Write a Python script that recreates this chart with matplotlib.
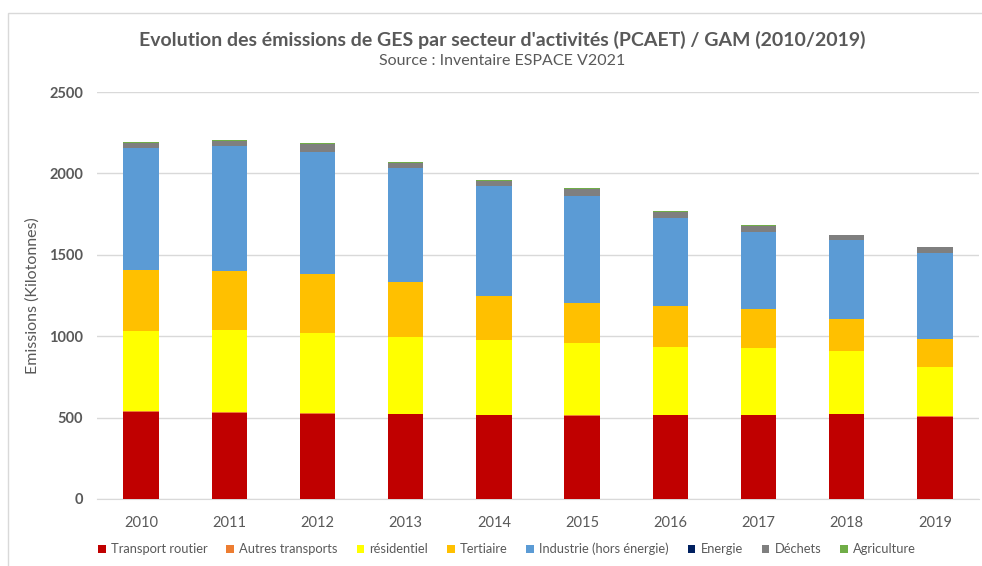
import matplotlib.pyplot as plt
import numpy as np
from matplotlib.patches import Rectangle

plt.rcParams['font.family'] = ['Lato', 'DejaVu Sans']

years = ['2010', '2011', '2012', '2013', '2014', '2015', '2016', '2017', '2018', '2019']

transport_routier = [535, 531, 525, 520, 516, 512, 513, 514, 520, 506]
autres_transports = [3, 3, 3, 3, 3, 3, 3, 3, 3, 3]
residentiel = [497, 505, 492, 471, 456, 442, 415, 410, 389, 301]
tertiaire = [369, 359, 365, 336, 275, 250, 256, 243, 194, 172]
industrie = [754, 772, 748, 703, 674, 654, 537, 473, 486, 530]
energie = [0, 0, 0, 0, 0, 0, 0, 0, 0, 0]
dechets = [31, 29, 48, 33, 29, 45, 39, 35, 28, 33]
agriculture = [4, 4, 4, 4, 4, 4, 4, 4, 4, 5]

series = [
    ('Transport routier', transport_routier, '#c00000'),
    ('Autres transports', autres_transports, '#ed7d31'),
    ('résidentiel', residentiel, '#ffff00'),
    ('Tertiaire', tertiaire, '#ffc000'),
    ('Industrie (hors énergie)', industrie, '#5b9bd5'),
    ('Energie', energie, '#002060'),
    ('Déchets', dechets, '#7f7f7f'),
    ('Agriculture', agriculture, '#70ad47'),
]

W, H = 982, 566
fig = plt.figure(figsize=(W / 100, H / 100), dpi=100)
ax = fig.add_axes([97 / W, 1 - 499 / H, (979 - 97) / W, (499 - 92) / H])

# chart border
fig.patches.append(Rectangle((8 / W, -0.1), 1.2, 1 - 13 / H + 0.1, transform=fig.transFigure,
                             fill=False, edgecolor='#d9d9d9', linewidth=1.0))

x = np.arange(len(years))
bottom = np.zeros(len(years))
for label, vals, color in series:
    ax.bar(x, vals, 0.4, bottom=bottom, color=color, label=label, zorder=3)
    bottom += np.array(vals)

ax.set_ylim(0, 2500)
ax.set_xlim(-0.5, len(years) - 0.5)
ax.set_yticks(range(0, 2501, 500))
ax.set_xticks(x)
ax.set_xticklabels(years)
ax.yaxis.grid(True, color='#d9d9d9', linewidth=1.0, zorder=0)
for side in ['top', 'right', 'left']:
    ax.spines[side].set_visible(False)
ax.spines['bottom'].set_color('#d9d9d9')
ax.tick_params(axis='both', length=0, colors='#595959', labelsize=10.5)
ax.tick_params(axis='x', pad=12)
ax.tick_params(axis='y', pad=10)
for t in ax.get_yticklabels():
    t.set_fontweight('bold')
ax.set_ylabel('Emissions (Kilotonnes)', fontsize=11.5, color='#595959')
ax.yaxis.set_label_coords((40 - 97) / (979 - 97), 0.5)

fig.text(502 / W, 1 - 40 / H, "Evolution des émissions de GES par secteur d'activités (PCAET) / GAM (2010/2019)",
         ha='center', va='center', fontsize=14, fontweight='bold', color='#595959')
fig.text(502 / W, 1 - 61 / H, 'Source : Inventaire ESPACE V2021',
         ha='center', va='center', fontsize=11.5, color='#595959')

fig.legend(loc='center', bbox_to_anchor=(507 / W, 1 - 549 / H), ncol=8, frameon=False,
           fontsize=9.3, handlelength=0.6, handleheight=0.6, handletextpad=0.4,
           columnspacing=1.45, labelcolor='#595959')

fig.savefig('out.png', dpi=100)
